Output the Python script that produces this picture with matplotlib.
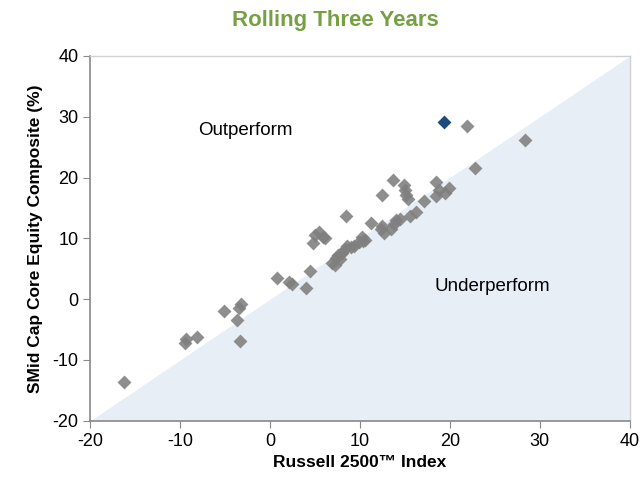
import numpy as np
import matplotlib
matplotlib.use("Agg")
import matplotlib.pyplot as plt

plt.rcParams["font.family"] = ["Liberation Sans", "DejaVu Sans"]
plt.rcParams["axes.unicode_minus"] = False

# Russell 2500 index return (x) vs composite return (y), rolling 3 years
index_ret = [-16.2, -9.5, -9.4, -8.1, -5.1, -3.5, -3.2, -3.7, -3.3,
             0.8, 2.1, 2.4, 4.0, 4.4, 4.8, 5.0, 5.4, 5.9, 6.1, 8.4,
             6.9, 7.2, 7.3, 7.6, 7.8, 8.0, 8.3, 8.6, 9.0, 9.3,
             9.9, 10.3, 10.2, 10.6, 11.2, 12.3, 12.5, 12.7, 12.5, 13.4,
             13.8, 14.0, 14.4, 13.7, 14.9, 15.0, 15.1, 15.3, 15.6, 16.2,
             17.1, 18.4, 18.4, 18.8, 19.4, 19.9, 21.9, 22.8, 28.4]
comp_ret = [-13.6, -7.2, -6.6, -6.2, -2.0, -1.5, -0.8, -3.4, -6.8,
            3.5, 2.8, 2.5, 1.8, 4.7, 9.2, 10.5, 11.0, 10.3, 10.0, 13.7,
            6.0, 5.6, 6.8, 7.2, 6.6, 7.6, 8.2, 8.8, 8.6, 8.8,
            9.4, 9.6, 10.2, 9.8, 12.5, 11.6, 17.2, 10.9, 12.0, 11.6,
            12.4, 13.0, 13.1, 19.6, 18.8, 17.9, 17.1, 16.4, 13.6, 14.3,
            16.2, 19.2, 16.9, 17.9, 17.4, 18.2, 28.5, 21.5, 26.2]
latest_x = [19.3]
latest_y = [29.2]

ticks = [-20, -10, 0, 10, 20, 30, 40]

fig = plt.figure(figsize=(6.44, 4.82), dpi=100)
ax = fig.add_axes([0.140, 0.127, 0.838, 0.757])

diag = np.array([-20, 40])
ax.fill_between(diag, -20, diag, color="#e8eef6", lw=0, zorder=0)

ax.scatter(index_ret, comp_ret, marker="D", s=50, color="#7f7f7f",
           alpha=0.88, lw=0, zorder=3)
ax.scatter(latest_x, latest_y, marker="D", s=50, color="#1f497d",
           lw=0, zorder=4)

ax.text(-2.7, 27.7, "Outperform", ha="center", va="center", fontsize=13.5)
ax.text(24.7, 2.0, "Underperform", ha="center", va="center", fontsize=13.5)

ax.set_xlim(-20, 40)
ax.set_ylim(-20, 40)
ax.set_xticks(ticks)
ax.set_yticks(ticks)
ax.tick_params(labelsize=13, length=5, color="#888888", direction="out")

for s in ["left", "bottom"]:
    ax.spines[s].set_color("#888888")
    ax.spines[s].set_linewidth(1.2)
for s in ["top", "right"]:
    ax.spines[s].set_color("#d0d0d0")
    ax.spines[s].set_linewidth(1.0)

ax.set_xlabel("Russell 2500\u2122 Index", fontsize=12.5, fontweight="bold",
              labelpad=4)
ax.set_ylabel("SMid Cap Core Equity Composite (%)", fontsize=12.5,
              fontweight="bold", labelpad=7)
fig.text(0.52, 0.957, "Rolling Three Years", ha="center", va="center",
         fontsize=16, fontweight="bold", color="#76a044")

fig.savefig("out.png", dpi=100)
